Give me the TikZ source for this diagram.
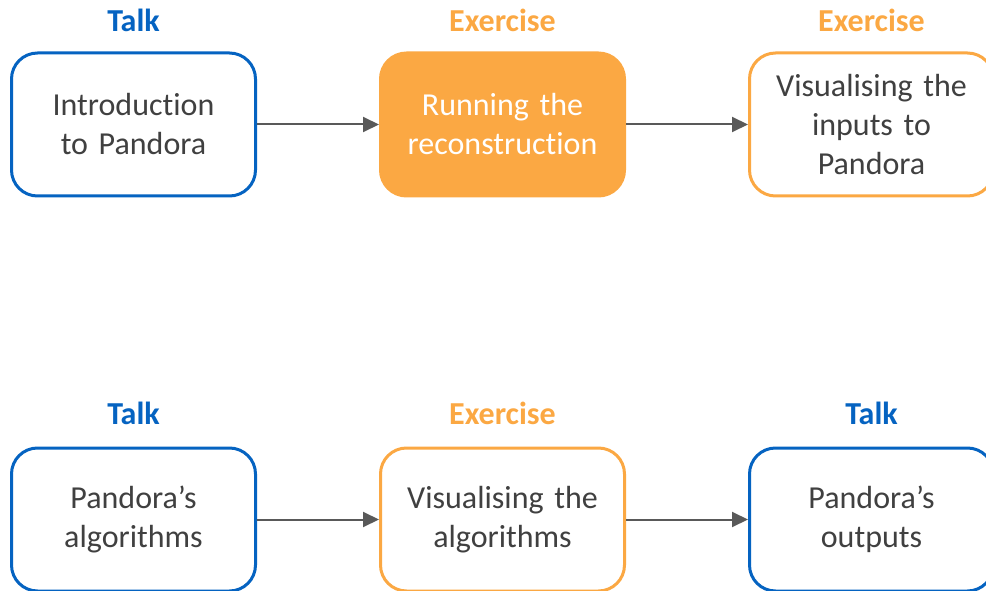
\documentclass[tikz,border=0pt]{standalone}
\usepackage{fontspec}
\setmainfont{Carlito}[Ligatures={NoCommon}]
\usetikzlibrary{arrows.meta}
\definecolor{talkblue}{HTML}{0563C1}
\definecolor{exorange}{HTML}{FBA843}
\definecolor{txtgray}{HTML}{404040}
\definecolor{arrgray}{HTML}{595959}
\tikzset{
  box/.style={rectangle, rounded corners=26pt, minimum width=244pt, minimum height=143pt,
    line width=3pt, inner sep=0pt, text width=236pt, align=center,
    font=\fontsize{32}{39}\selectfont, text=txtgray, fill=white},
  talkbox/.style={box, draw=talkblue},
  exbox/.style={box, draw=exorange},
  exfill/.style={box, draw=exorange, fill=exorange, text=white},
  hdr/.style={font=\fontsize{32}{38}\selectfont\bfseries, inner sep=0pt},
  talkhdr/.style={hdr, text=talkblue},
  exhdr/.style={hdr, text=exorange},
  flow/.style={draw=arrgray, line width=2pt, -{Triangle[length=16pt,width=15pt]}}
}
\begin{document}
\begin{tikzpicture}[x=1pt,y=-1pt]
\useasboundingbox (0,0) rectangle (986,591);
\clip (0,0) rectangle (986,591);
\node[talkbox] (b1) at (133.5,124.5) {Introduction\\to Pandora};
\node[exfill]  (b2) at (502.5,124.5) {Running the\\reconstruction};
\node[exbox]   (b3) at (871.5,124.5) {Visualising the\\inputs to\\Pandora};
\node[talkbox] (b4) at (133.5,519.5) {Pandora’s\\algorithms};
\node[exbox]   (b5) at (502.5,519.5) {Visualising the\\algorithms};
\node[talkbox] (b6) at (871.5,519.5) {Pandora’s\\outputs};
\node[talkhdr] (h1) at (133.5,20) {Talk};
\node[exhdr]   (h2) at (502.5,20) {Exercise};
\node[exhdr]   (h3) at (871.5,20) {Exercise};
\node[talkhdr] (h4) at (133.5,413) {Talk};
\node[exhdr]   (h5) at (502.5,413) {Exercise};
\node[talkhdr] (h6) at (871.5,413) {Talk};
\draw[flow] (b1.east) -- (b2.west);
\draw[flow] (b2.east) -- (b3.west);
\draw[flow] (b4.east) -- (b5.west);
\draw[flow] (b5.east) -- (b6.west);
\end{tikzpicture}
\end{document}
